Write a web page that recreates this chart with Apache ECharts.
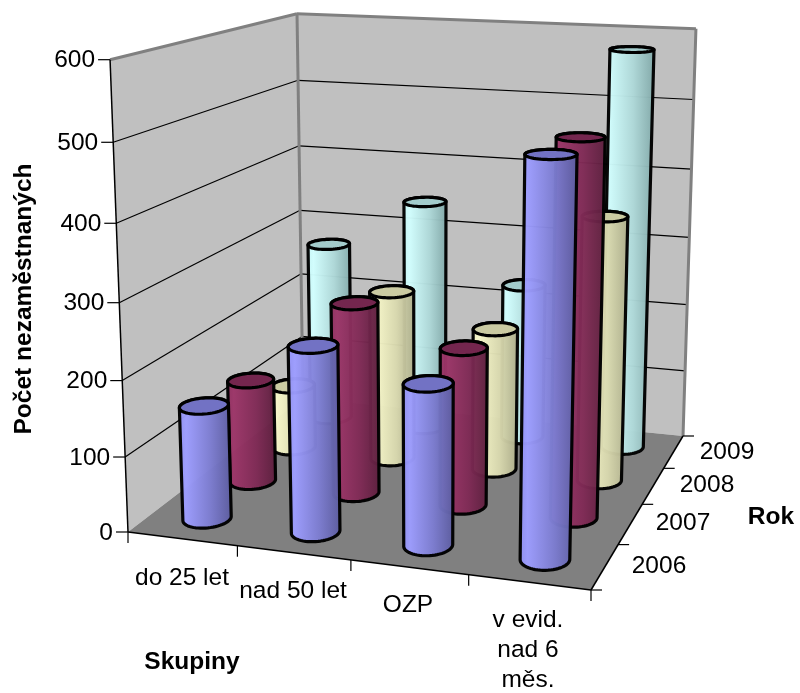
<!DOCTYPE html>
<html>
<head>
<meta charset="utf-8">
<style>html,body{margin:0;padding:0;background:#fff}#chart{width:800px;height:693px}</style>
<script src="https://cdn.jsdelivr.net/npm/echarts@6/dist/echarts.min.js"></script>
</head>
<body>
<div id="chart"></div>
<script>
// Unemployed counts by group and year
const groups = ['do 25 let', 'nad 50 let', 'OZP', 'v evid.\nnad 6\nměs.'];
const years = ['2006', '2007', '2008', '2009'];
const ticks = [0, 100, 200, 300, 400, 500, 600];
const values2006 = [152, 245, 210, 503];
const values2007 = [143, 263, 215, 500];
const values2008 = [92, 243, 202, 370];
const values2009 = [268, 342, 229, 576];
const yTitle = 'Počet nezaměstnaných';
const xTitle = 'Skupiny';
const zTitle = 'Rok';

// Gaussian elimination for the small projection systems
function solve(A, b) {
  const n = A.length, M = A.map((r, i) => r.concat(b[i]));
  for (let c = 0; c < n; c++) {
    let p = c;
    for (let r = c + 1; r < n; r++) if (Math.abs(M[r][c]) > Math.abs(M[p][c])) p = r;
    [M[c], M[p]] = [M[p], M[c]];
    for (let r = 0; r < n; r++) {
      if (r === c) continue;
      const f = M[r][c] / M[c][c];
      for (let k = c; k <= n; k++) M[r][k] -= f * M[c][k];
    }
  }
  return M.map((r, i) => r[n] / r[i]);
}

// Camera: floor homography for (u, v) plus a vertical term for height
const floorCorners = [[0, 0, 128, 532], [4, 0, 591, 590], [4, 4, 683, 436], [0, 4, 303, 398]];
const topCorners = [[0, 0, 110, 59], [0, 4, 297, 15], [4, 4, 696, 28]];
const H = (() => {
  const A = [], b = [];
  floorCorners.forEach(([u, v, x, y]) => {
    A.push([u, v, 1, 0, 0, 0, -u * x, -v * x]); b.push(x);
    A.push([0, 0, 0, u, v, 1, -u * y, -v * y]); b.push(y);
  });
  return solve(A, b);
})();
const floorH = (u, v) => [H[0] * u + H[1] * v + H[2], H[3] * u + H[4] * v + H[5], H[6] * u + H[7] * v + 1];
const V = (() => {
  const rows = [], rhs = [];
  topCorners.forEach(([u, v, x, y]) => {
    const [X, Y, W] = floorH(u, v);
    rows.push([1, 0, -x]); rhs.push(x * W - X);
    rows.push([0, 1, -y]); rhs.push(y * W - Y);
  });
  const N = [0, 1, 2].map(i => [0, 1, 2].map(j => rows.reduce((s, r) => s + r[i] * r[j], 0)));
  const d = [0, 1, 2].map(i => rows.reduce((s, r, k) => s + r[i] * rhs[k], 0));
  return solve(N, d);
})();
function project(u, v, value) {
  const [X, Y, W] = floorH(u, v), z = value / 600;
  const w = W + z * V[2];
  return [(X + z * V[0]) / w, (Y + z * V[1]) / w];
}

function hull(points) {
  const p = points.slice().sort((a, b) => a[0] - b[0] || a[1] - b[1]);
  const cross = (o, a, b) => (a[0] - o[0]) * (b[1] - o[1]) - (a[1] - o[1]) * (b[0] - o[0]);
  const side = list => {
    const out = [];
    list.forEach(q => {
      while (out.length > 1 && cross(out[out.length - 2], out[out.length - 1], q) <= 0) out.pop();
      out.push(q);
    });
    out.pop();
    return out;
  };
  return side(p).concat(side(p.slice().reverse()));
}

const ru = 0.2, rv = 0.235;
const palette = {
  '2006': { stops: ['#8f8ff0', '#9d9dff', '#7c7cd0', '#5a5a9c'], top: '#7272c4' },
  '2007': { stops: ['#8d2f5e', '#9c3568', '#7f2a55', '#5a1e3c'], top: '#74264e' },
  '2008': { stops: ['#e8e8ba', '#f8f8ca', '#d8d8ae', '#aaaa88'], top: '#cbcba2' },
  '2009': { stops: ['#c4f4f4', '#d2ffff', '#aed8d8', '#7fa6a6'], top: '#a3cccc' }
};

function cylinder(year, rowIndex) {
  const colors = palette[year];
  return function (params, api) {
    const c = api.coord([api.value(0), api.value(1)]);
    const cu = c[0] / 100, cv = rowIndex + 0.5, val = 600 - c[1];
    const base = [], top = [];
    for (let k = 0; k < 60; k++) {
      const t = k / 60 * Math.PI * 2;
      const u = cu + ru * Math.cos(t), v = cv + rv * Math.sin(t);
      base.push(project(u, v, 0));
      top.push(project(u, v, val));
    }
    const s = colors.stops;
    return {
      type: 'group',
      children: [
        {
          type: 'polygon', shape: { points: hull(base.concat(top)) },
          style: {
            fill: {
              type: 'linear', x: 0, y: 0, x2: 1, y2: 0,
              colorStops: [{ offset: 0, color: s[0] }, { offset: 0.15, color: s[1] }, { offset: 0.6, color: s[2] }, { offset: 1, color: s[3] }]
            },
            stroke: '#000', lineWidth: 3.2, lineJoin: 'round', opacity: 0.97
          }
        },
        { type: 'polygon', shape: { points: top }, style: { fill: colors.top, stroke: '#000', lineWidth: 3.2 } }
      ]
    };
  };
}

const LABEL = { fontFamily: 'Liberation Sans', fontSize: 24.5, fill: '#000' };
function label(text, x, y, align, extra) {
  return Object.assign({
    type: 'text', x, y, silent: true,
    style: Object.assign({}, LABEL, { text, align: align || 'center', verticalAlign: 'middle', lineHeight: 30 }, extra || {})
  });
}
function seg(a, b, color, width) {
  return { type: 'line', shape: { x1: a[0], y1: a[1], x2: b[0], y2: b[1] }, style: { stroke: color, lineWidth: width } };
}
function poly(points, fill) {
  return { type: 'polygon', shape: { points }, style: { fill } };
}

// Walls, floor, gridlines, axes and their text
function frame() {
  const c = [];
  const A = project(0, 0, 0), B = project(4, 0, 0), C = project(4, 4, 0), D = project(0, 4, 0);
  const A2 = project(0, 0, 600), C2 = project(4, 4, 600), D2 = project(0, 4, 600);
  c.push(poly([A, D, D2, A2], '#c0c0c0'), poly([D, C, C2, D2], '#c0c0c0'), poly([A, B, C, D], '#808080'));
  ticks.slice(1, -1).forEach(t => {
    const l = project(0, 0, t), m = project(0, 4, t), r = project(4, 4, t);
    c.push(seg(l, m, '#000', 1.2), seg(m, r, '#000', 1.2));
  });
  c.push(seg(A2, D2, '#808080', 3), seg(D2, C2, '#808080', 3), seg(D2, D, '#808080', 3), seg(C2, C, '#808080', 3));
  c.push(seg(A, A2, '#000', 1.5), seg(A, B, '#000', 1.5), seg(B, C, '#000', 1.5));
  ticks.forEach(t => {
    const p = project(0, 0, t);
    c.push(seg(p, [p[0] - 12, p[1]], '#000', 1.2));
    c.push(label(String(t), p[0] - 15, p[1] + 1, 'right'));
  });
  groups.forEach((g, i) => {
    const p = project(i, 0, 0);
    c.push(seg(p, [p[0], p[1] + 11], '#000', 1.2));
  });
  c.push(seg(B, [B[0], B[1] + 11], '#000', 1.2));
  for (let j = 0; j <= years.length; j++) {
    const p = project(4, j, 0);
    c.push(seg(p, [p[0] + 11, p[1]], '#000', 1.2));
  }
  c.push(label(groups[0], 182, 578), label(groups[1], 293, 591), label(groups[2], 408, 605), label(groups[3], 528, 650));
  c.push(label(years[0], 659, 566), label(years[1], 683, 523), label(years[2], 707, 485), label(years[3], 727, 452));
  const bold = { fontWeight: 'bold' };
  c.push(label(xTitle, 192, 662, 'center', bold), label(zTitle, 771, 517, 'center', bold));
  const t = label(yTitle, 24, 299, 'center', bold);
  t.rotation = Math.PI / 2;
  c.push(t);
  return { type: 'group', children: c };
}

const rows = [values2009, values2008, values2007, values2006];
const rowYears = ['2009', '2008', '2007', '2006'];
const series = [{
  type: 'custom', name: 'frame', silent: true, data: [[0, 0]], encode: { x: 0, y: 1 }, renderItem: frame, z: 1
}].concat(rows.map((vals, i) => ({
  type: 'custom', name: rowYears[i], silent: true, z: 2 + i, clip: false,
  encode: { x: 0, y: 1 },
  data: vals.map((v, k) => [groups[k], v]),
  renderItem: cylinder(rowYears[i], years.indexOf(rowYears[i]))
})));

const chart = echarts.init(document.getElementById('chart'), null, { renderer: 'canvas' });
chart.setOption({
  animation: false,
  // Hidden axes: 100 px per group band and 1 px per unit, read back in the projection
  grid: { left: 0, top: 0, width: 400, height: 600 },
  xAxis: { type: 'category', data: groups, show: false },
  yAxis: { type: 'value', min: 0, max: 600, show: false },
  series
});
</script>
</body>
</html>
